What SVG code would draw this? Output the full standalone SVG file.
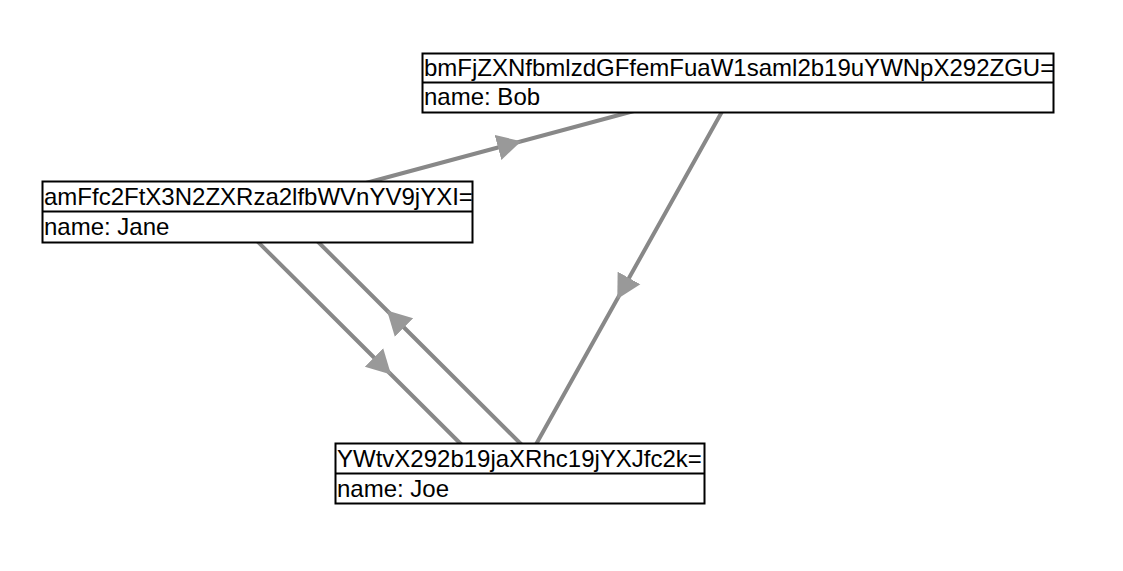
<svg xmlns="http://www.w3.org/2000/svg" width="1123" height="571" viewBox="0 0 1123 571">
<style>
.bg{fill:#fff}
.edge{fill:none;stroke:#888;stroke-width:4;marker-mid:url(#arr)}
.box{fill:#fff;stroke:#000;stroke-width:2}
.div{stroke:#000;stroke-width:2}
.t{font-family:"Liberation Sans",Arial,sans-serif;font-size:24px;fill:#000}
</style>
<defs>
<marker id="arr" markerUnits="userSpaceOnUse" viewBox="0 -14 26 28" refX="0" refY="0" markerWidth="26" markerHeight="28" orient="auto">
<path d="M0,-13 L24,0 L0,13 z" fill="#999"/>
</marker>
</defs>
<rect class="bg" x="0" y="0" width="1123" height="571"/>
<g id="connectors">
<path id="e-jane-bob" class="edge" d="M258,212 L498,147.5 L738,83"/>
<path id="e-bob-joe" class="edge" d="M738,83 L629,278 L520,473"/>
<path id="e-jane-joe" class="edge" d="M243,227 L374,357.5 L505,488"/>
<path id="e-joe-jane" class="edge" d="M535,458 L404,327.5 L273,197"/>
</g>
<g id="node-bob">
<rect class="box" x="422.5" y="53.5" width="631" height="59"/>
<line class="div" x1="422.5" y1="82.5" x2="1053.5" y2="82.5"/>
<text class="t" x="424" y="76">bmFjZXNfbmlzdGFfemFuaW1saml2b19uYWNpX292ZGU=</text>
<text class="t" x="424" y="104.5">name: Bob</text>
</g>
<g id="node-jane">
<rect class="box" x="42.5" y="181.5" width="430" height="61"/>
<line class="div" x1="42.5" y1="211.5" x2="472.5" y2="211.5"/>
<text class="t" x="44" y="204.5">amFfc2FtX3N2ZXRza2lfbWVnYV9jYXI=</text>
<text class="t" x="44" y="234.5">name: Jane</text>
</g>
<g id="node-joe">
<rect class="box" x="335.5" y="443.5" width="369" height="60"/>
<line class="div" x1="335.5" y1="473.5" x2="704.5" y2="473.5"/>
<text class="t" x="337" y="466.5">YWtvX292b19jaXRhc19jYXJfc2k=</text>
<text class="t" x="337" y="496.5">name: Joe</text>
</g>
</svg>
